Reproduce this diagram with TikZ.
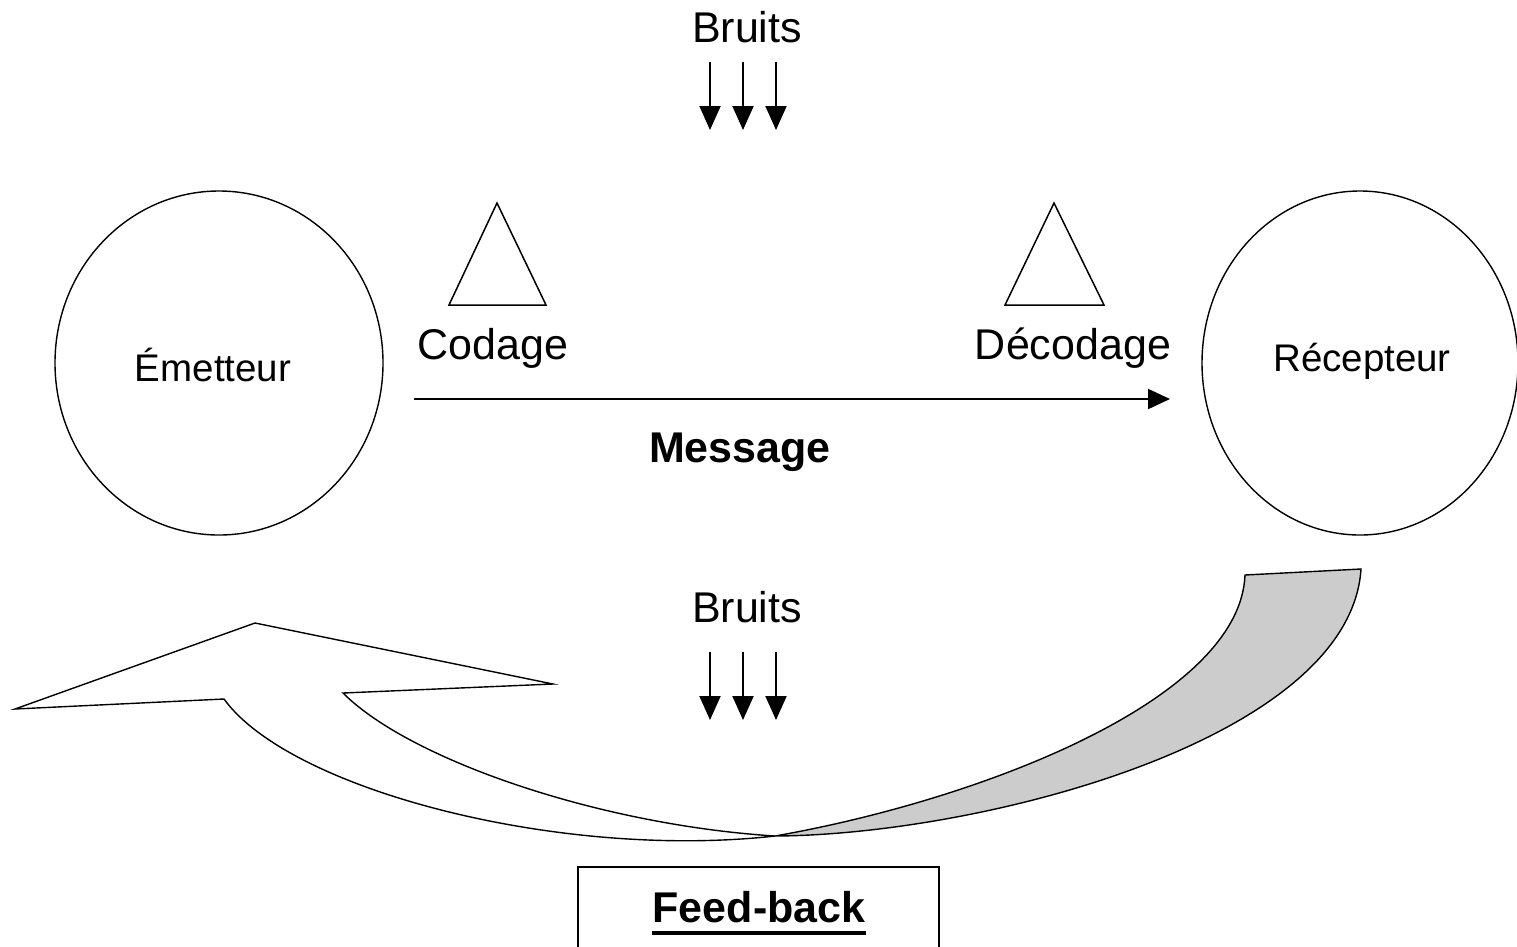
\documentclass[tikz,border=0pt]{standalone}
\usepackage{fontspec}
\setmainfont{Liberation Sans}
\usetikzlibrary{arrows.meta,calc,shapes.geometric}
\definecolor{ribbongray}{HTML}{CCCCCC}
\begin{document}
\begin{tikzpicture}[x=1pt,y=-1pt,
  party/.style={draw, ellipse, line width=1.4pt, minimum height=344pt, inner sep=0pt},
  role/.style={font=\fontsize{38.5}{45}\selectfont, inner sep=0pt, anchor=base},
  lbl/.style={font=\fontsize{43}{50}\selectfont, inner sep=0pt, anchor=base},
  boldlbl/.style={font=\bfseries\fontsize{43}{50}\selectfont, inner sep=0pt, anchor=base},
  tri/.style={draw, line width=1.5pt, line join=miter},
  noise/.style={line width=2pt, -{Triangle[length=24pt,width=21pt]}},
  flow/.style={line width=2pt, -{Triangle[length=22pt,width=20pt]}},
  ribbon/.style={draw, line width=1.4pt, line join=miter}
]
\useasboundingbox (0,0) rectangle (1517,946);

% sender and receiver
\node[party, minimum width=328pt] (emitter) at (219,363) {};
\node[party, minimum width=316pt] (receiver) at (1360,363) {};
\node[role] (emitterlbl) at (213,381) {Émetteur};
\node[role] (receiverlbl) at (1362,371) {Récepteur};

% encoding / decoding marks
\draw[tri] (497,203) -- (546,305) -- (449,305) -- cycle;
\draw[tri] (1054,203) -- (1104,305) -- (1005,305) -- cycle;
\node[lbl] (codage) at (493,359) {Codage};
\node[lbl] (decodage) at (1073,359) {Décodage};

% message channel
\coordinate (msgstart) at (414,399);
\coordinate (msgend) at (1170,399);
\draw[flow] (msgstart) -- (msgend);
\node[boldlbl] (message) at (740,462) {Message};

% noise, upper and lower
\node[lbl] (bruitsA) at (747,42) {Bruits};
\node[lbl] (bruitsB) at (747,622) {Bruits};
\foreach \x in {710,743,776} {
  \coordinate (na\x) at (\x,62);
  \coordinate (nb\x) at (\x,130);
  \coordinate (nc\x) at (\x,652);
  \coordinate (nd\x) at (\x,720);
  \draw[noise] (na\x) -- (nb\x);
  \draw[noise] (nc\x) -- (nd\x);
}

% feedback ribbon: shaded back part, then the arrow head part
\coordinate (twist) at (775,836);
\filldraw[ribbon, fill=ribbongray] (twist) .. controls (980,800) and (1240,700) .. (1245,575)
  -- (1361,569) .. controls (1350,740) and (980,835) .. (twist) -- cycle;
\filldraw[ribbon, fill=white] (twist) .. controls (600,825) and (410,760) .. (343,693)
  -- (553,684) -- (255,623) -- (15,709) -- (224,699)
  .. controls (290,790) and (560,860) .. (twist) -- cycle;

% feedback label
\node[draw, line width=1.4pt, minimum width=361pt, minimum height=100pt, inner sep=0pt] (fbbox) at (758.5,917) {};
\node[boldlbl] (feedback) at (759,922) {Feed-back};
\draw[line width=4pt] ($(feedback.base west)+(0,11)$) -- ($(feedback.base east)+(0,11)$);
\end{tikzpicture}
\end{document}
